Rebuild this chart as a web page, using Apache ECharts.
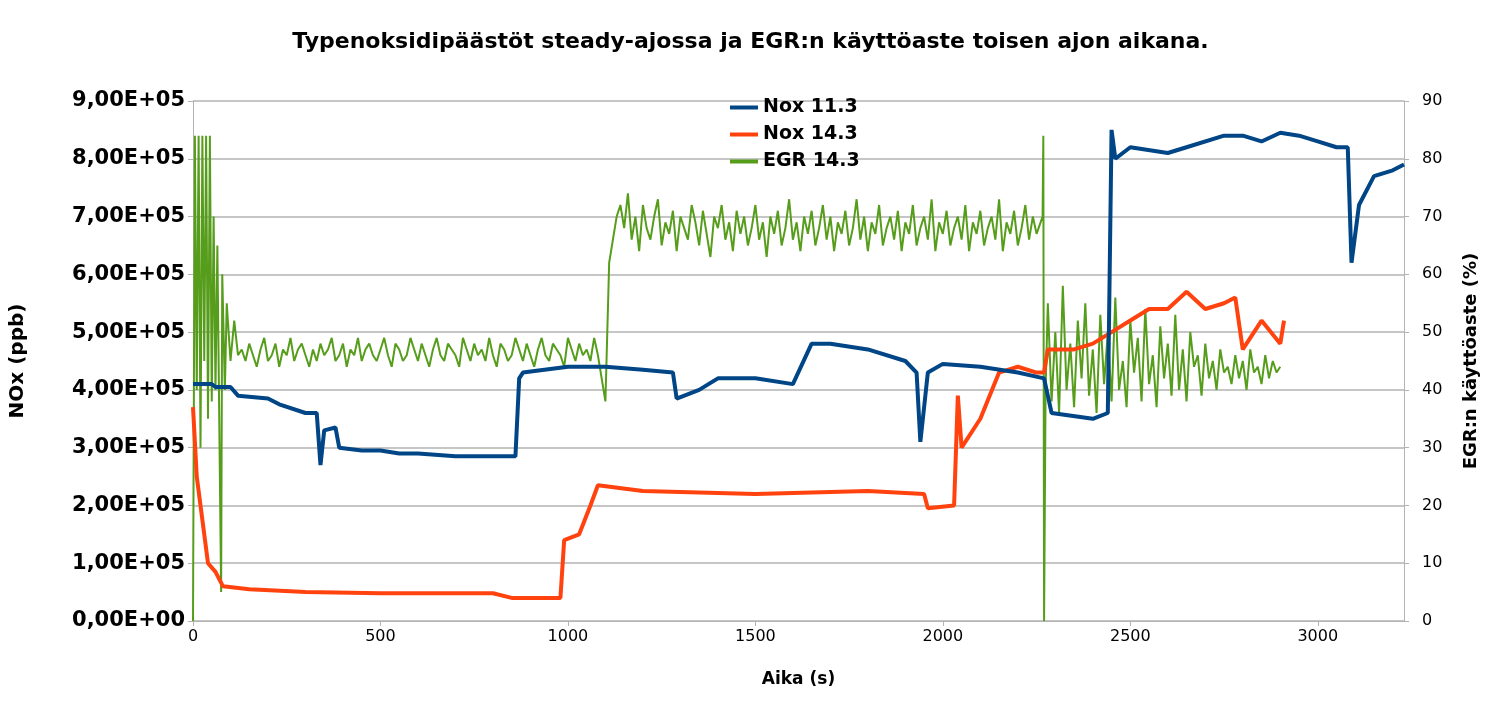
<!DOCTYPE html>
<html><head><meta charset="utf-8">
<script src="https://cdn.jsdelivr.net/npm/echarts@6/dist/echarts.min.js"></script>
<style>html,body{margin:0;padding:0;background:#fff}#c{width:1501px;height:713px}</style>
</head><body><div id="c"></div>
<script>
const noxT11=[0,50,60,100,120,200,230,300,330,340,350,380,390,450,500,550,600,700,750,800,860,870,880,1000,1100,1200,1280,1290,1350,1400,1450,1500,1600,1650,1700,1800,1900,1930,1940,1960,2000,2100,2200,2270,2290,2400,2440,2450,2460,2500,2600,2650,2750,2800,2850,2900,2950,3000,3050,3080,3090,3110,3150,3200,3230];
const noxV11=[4.1,4.1,4.05,4.05,3.9,3.85,3.75,3.6,3.6,2.7,3.3,3.35,3.0,2.95,2.95,2.9,2.9,2.85,2.85,2.85,2.85,4.2,4.3,4.4,4.4,4.35,4.3,3.85,4.0,4.2,4.2,4.2,4.1,4.8,4.8,4.7,4.5,4.3,3.1,4.3,4.45,4.4,4.3,4.2,3.6,3.5,3.6,8.5,8.0,8.2,8.1,8.2,8.4,8.4,8.3,8.45,8.4,8.3,8.2,8.2,6.2,7.2,7.7,7.8,7.9];
const noxT14=[0,10,20,40,60,80,150,300,500,800,850,900,980,990,1030,1060,1080,1200,1500,1800,1950,1960,2030,2040,2050,2100,2150,2200,2250,2270,2280,2350,2400,2450,2500,2550,2600,2650,2700,2750,2780,2800,2850,2900,2910];
const noxV14=[3.7,2.5,2.0,1.0,0.85,0.6,0.55,0.5,0.48,0.48,0.4,0.4,0.4,1.4,1.5,2.0,2.35,2.25,2.2,2.25,2.2,1.95,2.0,3.9,3.0,3.5,4.3,4.4,4.3,4.3,4.7,4.7,4.8,5.0,5.2,5.4,5.4,5.7,5.4,5.5,5.6,4.7,5.2,4.8,5.2];
const egrStartT=[0,5,10,15,20,25,30,35,40,45,50,55,60,65,70,75,78,85,90,100,110,120];
const egrStartV=[0,84,40,84,30,84,45,84,35,84,38,70,40,65,35,5,60,40,55,45,52,46];
const egrSeg1=[47,45,48,46,44,47,49,45,46,48,44,47,46,49,45,47,48,46,44,47,45,48,46,47,49,45,46,48,44,47,46,49,45,47,48,46,45,47,49,46,44,48,47,45,46,49,47,45,48,46,44,47,49,46,45,48,47,46,44,49,47,45,48,46,47,45,49,46,44,48,47,45,46,49,47,45,48,46,44,47,49,46,45,48,47,46,44,49,47,45,48,46,47,45,49,46];
const egrSeg2=[38,62,66,70,72,68,74,66,70,64,72,68,66,70,73,65,69,67,71,64,70,68,66,72,69,65,71,67,63,70,68,72,66,69,64,71,67,70,65,68,72,66,69,63,70,67,71,65,68,73,66,69,64,70,67,71,65,68,72,66,70,64,69,67,71,65,68,73,66,70,64,69,67,72,65,68,70,66,71,64,69,67,72,65,68,70,66,73,64,69,67,71,65,68,70,66,72,64,69,67,71,65,68,70,66,73,64,69,67,71,65,68,72,66,70,67];
const egrGapT=[2266,2268,2270,2274];
const egrGapV=[70,84,0,40];
const egrSeg3=[55,38,50,36,58,40,48,37,52,42,55,39,47,36,53,41,50,38,56,40,45,37,52,43,49,38,54,41,46,37,51,42,48,39,53,40,47,38,50,44,46,39,48,42,45,40,47,43,44,41,46,42,45,40,47,43,44,41,46,42,45,43,44];
const leftTicks=['0,00E+00','1,00E+05','2,00E+05','3,00E+05','4,00E+05','5,00E+05','6,00E+05','7,00E+05','8,00E+05','9,00E+05'];

const zip=(t,v)=>t.map((x,i)=>[x,v[i]]);
const egr=[].concat(zip(egrStartT,egrStartV),
  egrSeg1.map((v,i)=>[130+i*10,v]),
  egrSeg2.map((v,i)=>[1100+i*10,v]),
  zip(egrGapT,egrGapV),
  egrSeg3.map((v,i)=>[2280+i*10,v]));
const F='DejaVu Sans';
const ch=echarts.init(document.getElementById('c'));
ch.setOption({
  animation:false,
  title:{text:'Typenoksidipäästöt steady-ajossa ja EGR:n käyttöaste toisen ajon aikana.',left:'center',top:26,
    textStyle:{fontFamily:F,fontWeight:'bold',fontSize:22,color:'#000'}},
  legend:{orient:'vertical',left:725,top:93,itemGap:8,itemWidth:28,itemHeight:4,icon:'rect',
    textStyle:{fontFamily:F,fontWeight:'bold',fontSize:19,color:'#000'},
    data:['Nox 11.3','Nox 14.3','EGR 14.3']},
  grid:{left:193,right:97,top:101,bottom:92},
  xAxis:{type:'value',min:0,max:3230,interval:500,name:'Aika (s)',nameLocation:'middle',nameGap:50,
    nameTextStyle:{fontFamily:F,fontWeight:'bold',fontSize:17,color:'#000'},
    axisLine:{lineStyle:{color:'#b3b3b3'}},axisTick:{show:true,lineStyle:{color:'#b3b3b3'}},
    axisLabel:{fontFamily:F,fontSize:16,color:'#000',showMaxLabel:false,formatter:v=>String(v)},splitLine:{show:false}},
  yAxis:[{type:'value',min:0,max:9,interval:1,name:'NOx (ppb)',nameLocation:'middle',nameGap:165,
    nameTextStyle:{fontFamily:F,fontWeight:'bold',fontSize:20,color:'#000'},
    axisLine:{show:true,lineStyle:{color:'#b3b3b3'}},
    axisLabel:{fontFamily:F,fontWeight:'bold',fontSize:21,color:'#000',formatter:v=>leftTicks[Math.round(v)]},
    splitLine:{lineStyle:{color:'#b3b3b3',width:1.5}}},
   {type:'value',min:0,max:90,interval:10,name:'EGR:n käyttöaste (%)',nameLocation:'middle',nameGap:58,nameRotate:90,
    nameTextStyle:{fontFamily:F,fontWeight:'bold',fontSize:18,color:'#000'},
    axisLine:{show:true,lineStyle:{color:'#b3b3b3'}},
    axisLabel:{fontFamily:F,fontSize:16,color:'#000',margin:18},splitLine:{show:false}}],
  series:[
    {name:'EGR 14.3',type:'line',yAxisIndex:1,showSymbol:false,data:egr,lineStyle:{color:'#579d1c',width:2},itemStyle:{color:'#579d1c'},z:1},
    {name:'Nox 14.3',type:'line',showSymbol:false,data:zip(noxT14,noxV14),lineStyle:{color:'#ff420e',width:4},itemStyle:{color:'#ff420e'},z:2},
    {name:'Nox 11.3',type:'line',showSymbol:false,data:zip(noxT11,noxV11),lineStyle:{color:'#004586',width:4},itemStyle:{color:'#004586'},z:3}
  ]
});
</script></body></html>
